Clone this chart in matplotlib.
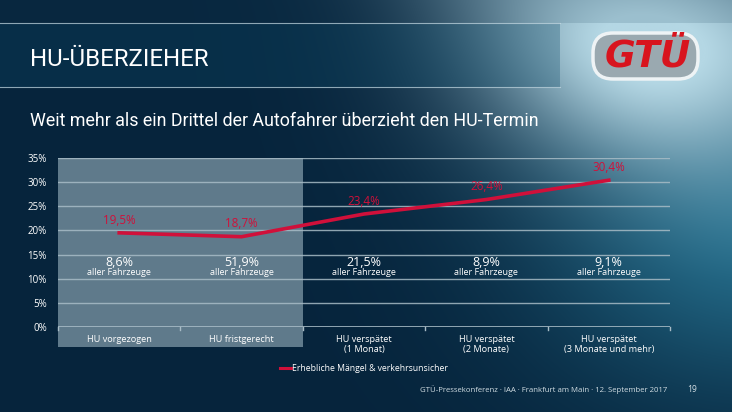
import numpy as np
import matplotlib
matplotlib.use('Agg')
import matplotlib.pyplot as plt
from matplotlib.patches import Rectangle, FancyBboxPatch

categories = ['HU vorgezogen', 'HU fristgerecht', 'HU verspätet\n(1 Monat)',
              'HU verspätet\n(2 Monate)', 'HU verspätet\n(3 Monate und mehr)']
maengel = [19.5, 18.7, 23.4, 26.4, 30.4]
anteil = [8.6, 51.9, 21.5, 8.9, 9.1]
yticks = [0, 5, 10, 15, 20, 25, 30, 35]

def de(v):
    return f'{v:.1f}%'.replace('.', ',')

plt.rcParams['font.family'] = ['Open Sans', 'DejaVu Sans']
W, H = 732, 412
fig = plt.figure(figsize=(W / 100, H / 100), dpi=100)

# background gradient
yy, xx = np.mgrid[0:H, 0:W].astype(float)
base = np.array([6, 36, 60]) / 255
light = np.array([180, 215, 228]) / 255
teal = np.array([35, 108, 138]) / 255
glow = np.exp(-(((xx - 680) / 190) ** 2 + ((yy - 45) / 120) ** 2))
band = np.exp(-(((xx - 0.9 * yy) - 540) / 140) ** 2) * np.clip(1 - yy / 280, 0, 1)
side = np.exp(-(((xx - 760) / 220) ** 2 + ((yy - 220) / 170) ** 2))
img = base[None, None, :] * np.ones((H, W, 1))
img = img + (teal - base) * np.clip(side, 0, 1)[..., None]
img = img + (light - img) * np.clip(glow * 0.9 + band * 0.3, 0, 1)[..., None]
top = (yy < 23)
img[top] = img[top] * 0.85 + np.array([20, 60, 85]) / 255 * 0.15
# title band
bandmask = (yy >= 23) & (yy <= 87) & (xx < 560)
img[bandmask] = img[bandmask] * 0.7 + np.array([10, 72, 102]) / 255 * 0.3
bg = fig.add_axes([0, 0, 1, 1])
bg.imshow(np.clip(img, 0, 1), extent=[0, W, H, 0], aspect='auto', zorder=0)
bg.set_xlim(0, W)
bg.set_ylim(H, 0)
bg.axis('off')
bg.plot([0, 560], [23, 23], color='#c8dbe4', lw=0.8, alpha=0.7)
bg.plot([0, 560], [87, 87], color='#c8dbe4', lw=0.8, alpha=0.7)

bg.text(30, 59, 'HU-ÜBERZIEHER', color='white', fontsize=17.3, va='center',
        family=['Roboto', 'Open Sans', 'DejaVu Sans'])
bg.text(30, 121, 'Weit mehr als ein Drittel der Autofahrer überzieht den HU-Termin',
        color='white', fontsize=12.9, va='center', family=['Roboto', 'DejaVu Sans'])

# logo
bg.add_patch(FancyBboxPatch((593, 33), 105, 46, boxstyle='round,pad=0,rounding_size=20',
                            facecolor='#9aa9b0', edgecolor='#eef3f5', lw=2.5, zorder=2))
bg.text(648, 56, 'GTÜ', color='#d8141e', fontsize=27, fontweight='bold', style='italic',
        ha='center', va='center', zorder=3, family=['DejaVu Sans'])

bg.text(667, 390, 'GTÜ-Pressekonferenz · IAA · Frankfurt am Main · 12. September 2017',
        color='#d0dce2', fontsize=5.6, ha='right', va='center')
bg.text(697, 390, '19', color='#d0dce2', fontsize=6.2, ha='right', va='center')

# chart
ax = fig.add_axes([58 / W, 85 / H, 612 / W, 169 / H])
ax.set_facecolor('none')
x = np.arange(len(categories))
ax.set_xlim(-0.5, 4.5)
ax.set_ylim(0, 35)
ax.add_patch(Rectangle((-0.5, -4.1), 2, 39.1, facecolor='#b8d0da', alpha=0.5,
                       edgecolor='none', clip_on=False, zorder=0))
for t in yticks[1:]:
    ax.axhline(t, color='#a8bcc6', lw=1.0, alpha=0.85, zorder=1)
ax.axhline(0, color='#a8bcc6', lw=1.2, zorder=1)
for b in np.arange(-0.5, 5, 1):
    ax.plot([b, b], [0, -0.7], color='#a8bcc6', lw=1, clip_on=False)

line, = ax.plot(x, maengel, color='#d0103a', lw=2.6, zorder=3,
                label='Erhebliche Mängel & verkehrsunsicher')
for i, v in enumerate(maengel):
    ax.text(i, v + 1.3, de(v), color='#d0103a', fontsize=8.4, ha='center', va='bottom')
for i, v in enumerate(anteil):
    ax.text(i, 13.4, de(v), color='white', fontsize=9, ha='center', va='center')
    ax.text(i, 11.2, 'aller Fahrzeuge', color='white', fontsize=6.5, ha='center', va='center')

ax.set_yticks(yticks)
ax.set_yticklabels([f'{t}%' for t in yticks], color='white', fontsize=7)
ax.set_xticks(x)
ax.set_xticklabels(categories, color='white', fontsize=6.6, linespacing=1.1)
ax.tick_params(length=0, pad=6)
ax.tick_params(axis='y', pad=8)
for s in ax.spines.values():
    s.set_visible(False)

leg = ax.legend(handles=[line], loc='upper left', bbox_to_anchor=(0.357, -0.2),
                frameon=False, fontsize=6.2, labelcolor='white', handlelength=1.3,
                handletextpad=0.1, borderaxespad=0)
leg.get_lines()[0].set_linewidth(2.2)

fig.savefig('out.png', dpi=100)
